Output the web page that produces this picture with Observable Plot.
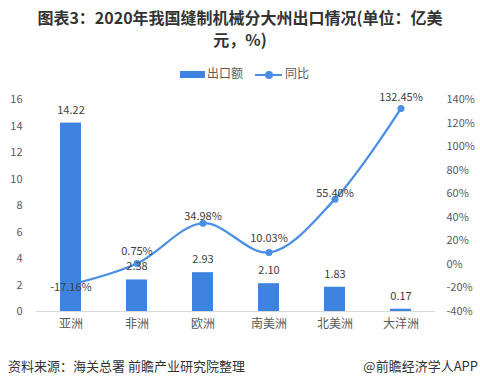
<!DOCTYPE html>
<html>
<head>
<meta charset="utf-8">
<script src="https://cdn.jsdelivr.net/npm/d3@7"></script>
<script src="https://cdn.jsdelivr.net/npm/@observablehq/plot@0.6"></script>
<style>
  html, body { margin: 0; padding: 0; background: #fff; }
  body { width: 480px; height: 386px; position: relative; overflow: hidden;
         font-family: "Noto Sans CJK SC", "Noto Sans", sans-serif; color: #333; }
  .title { position: absolute; left: 0; width: 480px; text-align: center;
           font-size: 16px; font-weight: bold; line-height: 16px; height: 16px; color: #333; white-space: nowrap; }
  #title1 { top: 9px; }
  #title2 { top: 31px; }
  #legend { position: absolute; top: 64px; left: 0; width: 480px; height: 16px; font-size: 12px; color: #595959; }
  #legend .sw-bar { position: absolute; left: 180px; top: 7px; width: 25px; height: 7px; background: #3f83e0; }
  #legend .t1 { position: absolute; left: 207px; top: 0px; line-height: 18px; }
  #legend .sw-line { position: absolute; left: 255px; top: 9.5px; width: 27px; height: 2px; background: #4a8ee6; }
  #legend .sw-dot { position: absolute; left: 265px; top: 6.5px; width: 8px; height: 8px; border-radius: 50%; background: #4a8ee6; }
  #legend .t2 { position: absolute; left: 285px; top: 0px; line-height: 18px; }
  #chart { position: absolute; left: 0; top: 80px; }
  #src { position: absolute; left: 8px; top: 356px; font-size: 13px; color: #333; }
  #brand { position: absolute; right: 2px; top: 356px; font-size: 13px; color: #333; }
</style>
</head>
<body>
<div class="title" id="title1">图表3：2020年我国缝制机械分大州出口情况(单位：亿美</div>
<div class="title" id="title2">元，%)</div>
<div id="legend">
  <div class="sw-bar"></div><div class="t1">出口额</div>
  <div class="sw-line"></div><div class="sw-dot"></div><div class="t2">同比</div>
</div>
<div id="chart"></div>
<div id="src">资料来源：海关总署 前瞻产业研究院整理</div>
<div id="brand">@前瞻经济学人APP</div>
<script>
// data
const categories = ["亚洲", "非洲", "欧洲", "南美洲", "北美洲", "大洋洲"];
const exportValues = [14.22, 2.38, 2.93, 2.10, 1.83, 0.17];
const yoyPct = [-17.16, 0.75, 34.98, 10.03, 55.40, 132.45];
const leftTicks = [0, 2, 4, 6, 8, 10, 12, 14, 16];
const rightTicks = [-40, -20, 0, 20, 40, 60, 80, 100, 120, 140];

// label offsets (layout only)
const lineLabelDy = [3, -12, -7, -14, -6, -11];

const pctMin = -40, pctMax = 140, yMax = 16;
const toY = p => (p - pctMin) * yMax / (pctMax - pctMin);
const toPct = y => y * (pctMax - pctMin) / yMax + pctMin;

const rows = categories.map((c, i) => ({cat: c, value: exportValues[i], pct: yoyPct[i], dy: lineLabelDy[i]}));

const barColor = "#3f83e0";
const lineColor = "#4a8ee6";

const chart = Plot.plot({
  width: 480,
  height: 260,
  marginLeft: 36,
  marginRight: 45,
  marginTop: 19,
  marginBottom: 29,
  style: {fontFamily: "'Noto Sans CJK SC', 'Noto Sans', sans-serif", fontSize: "11px", color: "#595959", background: "transparent"},
  x: {type: "band", domain: categories, paddingInner: 0.68, paddingOuter: 0.34, axis: null},
  y: {domain: [0, yMax], axis: null},
  marks: [
    Plot.axisY(leftTicks, {anchor: "left", tickSize: 0, tickPadding: 14, label: null, fill: "#595959", fontSize: 11}),
    Plot.axisY(rightTicks.map(toY), {anchor: "right", tickSize: 0, tickPadding: 11, label: null, fill: "#595959", fontSize: 11,
      tickFormat: d => `${Math.round(toPct(d))}%`}),
    Plot.axisX({tickSize: 0, tickPadding: 8, label: null, fill: "#595959", fontSize: 12}),
    Plot.line(rows, {x: "cat", y: d => toY(d.pct), curve: "catmull-rom", stroke: lineColor, strokeWidth: 2.25}),
    Plot.dot(rows, {x: "cat", y: d => toY(d.pct), r: 3.5, fill: lineColor, stroke: "none"}),
    Plot.barY(rows, {x: "cat", y: "value", fill: barColor}),
    Plot.ruleY([0], {stroke: "#d9d9d9", strokeWidth: 1}),
    Plot.text(rows, {x: "cat", y: "value", text: d => d.value.toFixed(2), dy: -13, fill: "#404040", fontSize: 11}),
    ...rows.map(r => Plot.text([r], {x: "cat", y: d => toY(d.pct), text: d => `${d.pct.toFixed(2)}%`, dy: r.dy, fill: "#404040", fontSize: 11}))
  ]
});
document.getElementById("chart").appendChild(chart);
</script>
</body>
</html>
